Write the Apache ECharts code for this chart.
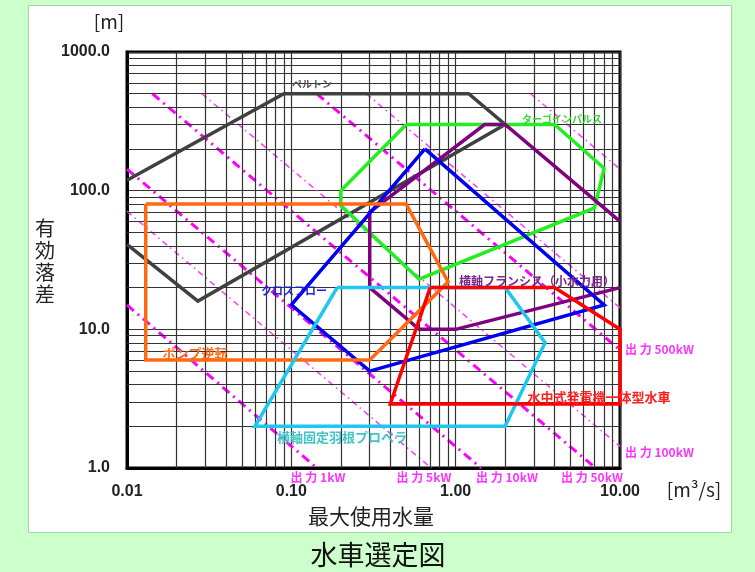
<!DOCTYPE html>
<html><head><meta charset="utf-8">
<script src="https://cdn.jsdelivr.net/npm/echarts@6/dist/echarts.min.js"></script>
<style>html,body{margin:0;padding:0;background:#ccffcc;}#c{width:755px;height:572px;}</style>
</head><body><div id="c"></div>
<script>
// ---- data (Q [m3/s], H [m]) ----
const xTicks = [0.01, 0.1, 1, 10];
const yTicks = [1, 10, 100, 1000];
const minorSteps = [2, 3, 4, 5, 6, 7, 8, 9];

const pelton      = [[0.01,119],[0.09,500],[1.2,500],[2,300],[0.027,16],[0.01,41]];
const turgo       = [[0.5,300],[4,300],[8,145],[7,75],[0.6,23],[0.2,78],[0.2,100]];
const francis     = [[10,20],[1,10],[0.6,10],[0.3,20],[0.3,70],[1.5,300],[2,300],[10,60]];
const crossflow   = [[0.65,200],[8,15],[0.3,5],[0.1,15]];
const pumpRev     = [[0.013,80],[0.5,80],[0.9,22],[0.3,6],[0.013,6]];
const propeller   = [[0.19,20],[2,20],[3.5,8],[2,2],[0.06,2]];
const submersible = [[0.7,20],[4,20],[10,10],[10,2.9],[0.4,2.9]];

const powerNames = ['1kW','5kW','10kW','50kW','100kW','500kW','1000kW','10000kW'];
const powerStart = [[0.01,15],[0.01,71],[0.01,143],[0.0143,500],[0.0286,500],[0.143,500],[0.286,500],[2.86,500]];
const powerEnd   = [[0.143,1],[0.71,1],[1.43,1],[7.1,1],[10,1.43],[10,7.1],[10,14.3],[10,143]];
const powerBold  = [true,false,true,true,false,true,false,false];

// ---- chart ----
const chart = echarts.init(document.getElementById('c'), null, {renderer:'canvas'});
const GRID = '#333';
const gridLines = [];
[0.01,0.1,1].forEach(d => minorSteps.forEach(k => gridLines.push({xAxis: +(d*k).toPrecision(3)})));
[1,10,100].forEach(d => minorSteps.forEach(k => gridLines.push({yAxis: d*k})));

function poly(name, pts, color, close) {
  return {type:'line', name, data: close ? pts.concat([pts[0]]) : pts, symbol:'none',
    lineStyle:{color, width:3.5, join:'miter'}, z:6, animation:false, silent:true};
}
const series = [
  {type:'line', data:[[0.01,1]], symbol:'none', lineStyle:{opacity:0}, z:1, silent:true, animation:false,
   markLine:{silent:true, symbol:['none','none'], label:{show:false}, animation:false,
     lineStyle:{color:GRID, width:1.2, type:'solid'}, emphasis:{disabled:true}, data:gridLines}},
];
powerNames.forEach((n,i) => {
  series.push({type:'line', name:n, data:[powerStart[i], powerEnd[i]], symbol:'none', z:3, silent:true, animation:false,
    lineStyle: powerBold[i] ? {color:'#ff00ff', width:3, type:[9,5,2,5]} : {color:'#ff44ff', width:1.6, type:[6,4,1.5,4]}});
});
series.push(poly('ペルトン', pelton, '#404040', false));
series.push(poly('ターゴインパルス', turgo, '#22ee22', true));
series.push(poly('横軸フランシス', francis, '#800080', false));
series.push(poly('クロスフロー', crossflow, '#0000ee', true));
series.push(poly('ポンプ逆転', pumpRev, '#ff6a10', true));
series.push(poly('横軸固定羽根プロペラ', propeller, '#1ec6f0', true));
series.push(poly('水中式発電機一体型水車', submersible, '#ff0000', true));

function T(text, x, y, font, fill, align, extra) {
  return Object.assign({type:'text', z:50, silent:true, style:Object.assign({text, x, y, font, fill,
    textAlign:align||'center', align:align||'center', textVerticalAlign:'middle', verticalAlign:'middle'}, extra||{})});
}
const JP = '"Noto Sans CJK JP"';
const graphics = [
  {type:'rect', z:-10, silent:true, shape:{x:28.5, y:5.5, width:703, height:527}, style:{fill:'#ffffff', stroke:'#9edc9e', lineWidth:1}},
  T('[m]', 109, 22, '19px ' + JP, '#222'),
  T('[m³/s]', 694, 490, '19px ' + JP, '#222'),
  T('有\n効\n落\n差', 45, 261, '20px ' + JP, '#222', 'center', {lineHeight:22}),
  T('最大使用水量', 371, 516, '21px ' + JP, '#222'),
  T('水車選定図', 378, 555, '27px ' + JP, '#111'),
  T('ペルトン', 312, 84, 'bold 10px ' + JP, '#555'),
  T('ターゴインパルス', 562, 119, 'bold 10px ' + JP, '#33dd33'),
  T('横軸フランシス（小水力用）', 537, 281, 'bold 12px ' + JP, '#7a2a8a'),
  T('クロスフロー', 294, 291, 'bold 11px ' + JP, '#2020e0'),
  T('ポンプ逆転', 195, 353, 'bold 13px ' + JP, '#ff6a10'),
  T('横軸固定羽根プロペラ', 342, 437, 'bold 13px ' + JP, '#40c4c4'),
  T('水中式発電機一体型水車', 599, 397, 'bold 13px ' + JP, '#ff2020'),
  T('出 力 1kW', 318, 477, 'bold 12px ' + JP, '#ff33ff'),
  T('出 力 5kW', 424, 477, 'bold 12px ' + JP, '#ff33ff'),
  T('出 力 10kW', 507, 477, 'bold 12px ' + JP, '#ff33ff'),
  T('出 力 50kW', 592, 477, 'bold 12px ' + JP, '#ff33ff'),
  T('出 力 500kW', 625, 349, 'bold 12px ' + JP, '#ff33ff', 'left'),
  T('出 力 100kW', 625, 452, 'bold 12px ' + JP, '#ff33ff', 'left'),
];

chart.setOption({
  backgroundColor:'#ccffcc',
  animation:false,
  grid:{left:127, top:52, right:135, bottom:104, show:true, borderColor:'#000', borderWidth:3, backgroundColor:'transparent'},
  xAxis:{type:'log', logBase:10, min:xTicks[0], max:xTicks[xTicks.length-1],
    axisLine:{show:true, lineStyle:{color:'#000', width:3}}, axisTick:{show:false},
    splitLine:{show:true, lineStyle:{color:GRID, width:1.2}},
    axisLabel:{margin:16, color:'#222', fontSize:16, fontWeight:'bold', fontFamily:'"Liberation Sans", Arial',
      formatter:v => v.toFixed(2)}},
  yAxis:{type:'log', logBase:10, min:yTicks[0], max:yTicks[yTicks.length-1],
    axisLine:{show:true, lineStyle:{color:'#000', width:3}}, axisTick:{show:false},
    splitLine:{show:true, lineStyle:{color:GRID, width:1.2}},
    axisLabel:{margin:17, color:'#222', fontSize:16, fontWeight:'bold', fontFamily:'"Liberation Sans", Arial',
      formatter:v => v.toFixed(1)}},
  series,
  graphic:graphics
});
</script></body></html>
